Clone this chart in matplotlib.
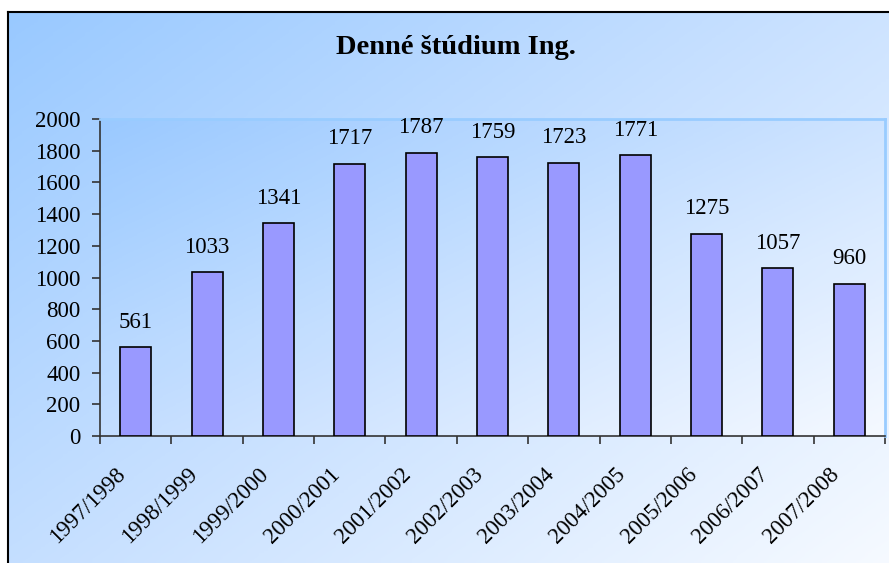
import numpy as np
import matplotlib
matplotlib.use("Agg")
import matplotlib.pyplot as plt
from matplotlib.colors import LinearSegmentedColormap
from matplotlib.transforms import ScaledTranslation

# data
years = ["1997/1998", "1998/1999", "1999/2000", "2000/2001", "2001/2002",
         "2002/2003", "2003/2004", "2004/2005", "2005/2006", "2006/2007",
         "2007/2008"]
students = [561, 1033, 1341, 1717, 1787, 1759, 1723, 1771, 1275, 1057, 960]
title = "Denné štúdium Ing."

plt.rcParams['font.family'] = ['Liberation Serif', 'DejaVu Serif']

W, H = 889, 563
fig = plt.figure(figsize=(W / 100, H / 100), dpi=100)
fig.patch.set_facecolor("white")

grad = LinearSegmentedColormap.from_list("bg", ["#99c9ff", "#c9e1ff", "#f6faff"])

def gradient(n=200):
    x = np.linspace(0, 1, n)
    y = np.linspace(0, 1, n)
    X, Y = np.meshgrid(x, y)
    return (X * 0.55 + Y * 0.45)

# outer chart area with diagonal gradient, cut off at the right and bottom
bg = fig.add_axes([8 / W, 0, 1, 1 - 12 / H])
bg.imshow(gradient(), cmap=grad, aspect="auto", extent=[0, 1, 0, 1],
          origin="upper", interpolation="bilinear")
bg.set_xlim(0, 1)
bg.set_ylim(0, 1)
bg.set_axis_off()
fig.add_artist(plt.Line2D([8 / W, 8 / W], [0, 1 - 12 / H], color="black", lw=1.5,
                          transform=fig.transFigure))
fig.add_artist(plt.Line2D([8 / W, 1], [1 - 12 / H, 1 - 12 / H], color="black", lw=1.5,
                          transform=fig.transFigure))

# plot area
left, right, top, bottom = 100, 885, 119, 436
ax = fig.add_axes([left / W, 1 - bottom / H, (right - left) / W, (bottom - top) / H])
ax.set_facecolor("none")
pa = fig.add_axes(ax.get_position(), zorder=0.5)
pa.imshow(gradient(), cmap=grad, aspect="auto", extent=[0, 1, 0, 1],
          origin="upper", interpolation="bilinear", alpha=0.9)
pa.set_axis_off()
ax.set_zorder(1)

x = np.arange(len(years))
ax.bar(x, students, width=0.435, color="#9999ff", edgecolor="black", linewidth=1.2,
       zorder=3)

for xi, v in zip(x, students):
    ax.annotate(str(v), (xi, v), xytext=(0, 14), textcoords="offset points",
                ha="center", va="baseline", fontsize=16.5)

ax.set_xlim(-0.5, len(years) - 0.5)
ax.set_ylim(0, 2000)
ax.set_yticks(range(0, 2001, 200))
ax.tick_params(axis="y", direction="out", length=6, width=1.2, color="#333333",
               labelsize=16.5, pad=8)

ax.set_xticks(x)
ax.set_xticklabels(years, rotation=45, ha="right", va="center",
                   rotation_mode="anchor", fontsize=16.5)
ax.tick_params(axis="x", which="major", length=0, pad=24)
shift = ScaledTranslation(-13 / 100, -2 / 100, fig.dpi_scale_trans)
for lab in ax.get_xticklabels():
    lab.set_transform(lab.get_transform() + shift)
ax.set_xticks(np.arange(-0.5, len(years), 1), minor=True)
ax.tick_params(axis="x", which="minor", direction="out", length=6, width=1.2,
               color="#333333")

for s in ["left", "bottom"]:
    ax.spines[s].set_color("#333333")
    ax.spines[s].set_linewidth(1.2)
for s in ["top", "right"]:
    ax.spines[s].set_color("#99ccff")
    ax.spines[s].set_linewidth(2)

fig.text(456 / W, 1 - 47 / H, title, ha="center", va="center",
         fontsize=20.5, fontweight="bold")

fig.savefig("out.png", dpi=100)
